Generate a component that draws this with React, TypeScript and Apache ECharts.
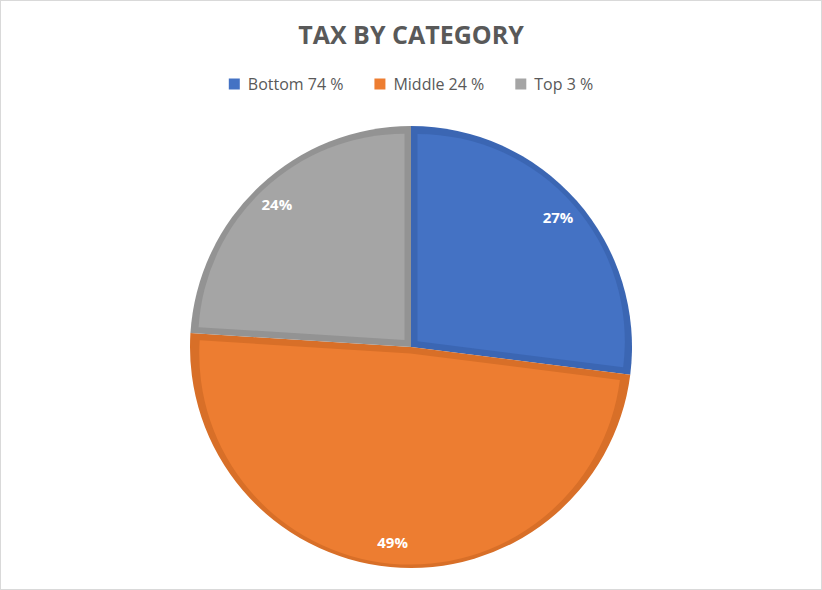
import React, { useEffect, useRef } from 'react';
import * as echarts from 'echarts';

const categories = ['Bottom 74 %', 'Middle 24 %', 'Top 3 %'];
const shares = [27, 49, 24];
const fillColors = ['#4472C4', '#ED7D31', '#A5A5A5'];
const edgeColors = ['#3B66B3', '#D86F28', '#939393'];

export default function App() {
  const ref = useRef<HTMLDivElement>(null);
  useEffect(() => {
    const chart = echarts.init(ref.current!, null, { renderer: 'svg' });
    const cx = 410;
    const cy = 346;
    const R = 221;
    const d = 6.5;
    const font = '"Open Sans", "Noto Sans", sans-serif';
    const total = shares.reduce((a, b) => a + b, 0);
    let cum = 0;
    const insetSeries = categories.map((name, i) => {
      const span = (shares[i] / total) * 360;
      const mid = 90 - (cum + span / 2);
      cum += span;
      const half = ((span / 2) * Math.PI) / 180;
      const off = d / Math.sin(half);
      const r = R - d - (off * (1 + Math.cos(half))) / 2;
      const rad = (mid * Math.PI) / 180;
      return {
        type: 'pie',
        silent: true,
        startAngle: 90,
        clockwise: true,
        center: [cx + off * Math.cos(rad), cy - off * Math.sin(rad)],
        radius: [0, r],
        label: { show: false },
        labelLine: { show: false },
        emphasis: { disabled: true },
        itemStyle: { borderWidth: 0 },
        data: categories.map((n, j) => ({
          name: n,
          value: shares[j],
          itemStyle: { color: j === i ? fillColors[i] : 'rgba(0,0,0,0)' },
        })),
      };
    });
    chart.setOption({
      animation: false,
      backgroundColor: '#ffffff',
      title: {
        text: 'TAX BY CATEGORY',
        left: 'center',
        top: 15,
        textStyle: { fontSize: 25, fontWeight: 'bold', color: '#595959', fontFamily: font },
      },
      legend: {
        data: categories.map((name, i) => ({ name, itemStyle: { color: fillColors[i] } })),
        left: 'center',
        top: 70,
        icon: 'rect',
        itemWidth: 11,
        itemHeight: 11,
        itemGap: 31,
        selectedMode: false,
        textStyle: { color: '#595959', fontSize: 16, fontFamily: font, padding: [0, 0, 0, 3] },
      },
      series: [
        {
          type: 'pie',
          silent: true,
          startAngle: 90,
          clockwise: true,
          center: [cx, cy],
          radius: [0, R],
          label: { show: false },
          labelLine: { show: false },
          emphasis: { disabled: true },
          itemStyle: { borderWidth: 0 },
          data: categories.map((name, i) => ({ name, value: shares[i], itemStyle: { color: edgeColors[i] } })),
        },
        ...insetSeries,
        {
          type: 'pie',
          silent: true,
          startAngle: 90,
          clockwise: true,
          center: [cx, cy],
          radius: [164, 222],
          percentPrecision: 0,
          emphasis: { disabled: true },
          labelLine: { show: false },
          label: {
            show: true,
            position: 'inside',
            formatter: '{d}%',
            color: '#ffffff',
            fontWeight: 'bold',
            fontSize: 15,
            fontFamily: font,
          },
          itemStyle: { color: 'rgba(0,0,0,0)', borderWidth: 0 },
          data: categories.map((name, i) => ({ name, value: shares[i] })),
        },
      ],
    });
    return () => chart.dispose();
  }, []);
  return (
    <div
      style={{
        position: 'absolute',
        left: 0,
        top: 0,
        width: 822,
        height: 590,
        border: '1px solid #D9D9D9',
        boxSizing: 'border-box',
        background: '#fff',
      }}
    >
      <div ref={ref} style={{ width: '100%', height: '100%' }} />
    </div>
  );
}
